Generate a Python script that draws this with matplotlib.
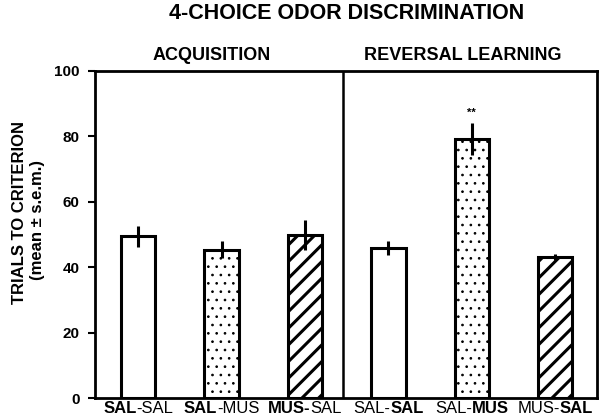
import numpy as np
import matplotlib
matplotlib.use("Agg")
import matplotlib.pyplot as plt
from matplotlib.offsetbox import TextArea, HPacker, AnnotationBbox

plt.rcParams['font.family'] = ['Liberation Sans', 'DejaVu Sans']

# group labels, split into (bold part, plain part) pieces
label_parts = [
    [("SAL", True), ("-SAL", False)],
    [("SAL", True), ("-MUS", False)],
    [("MUS-", True), ("SAL", False)],
    [("SAL-", False), ("SAL", True)],
    [("SAL-", False), ("MUS", True)],
    [("MUS-", False), ("SAL", True)],
]
means = [49.5, 45.3, 49.8, 45.9, 79.3, 43.1]
sems = [3.2, 2.6, 4.6, 2.2, 4.9, 1.0]
hatches = ['', '..', '//', '', '..', '//']
panels = ["ACQUISITION", "REVERSAL LEARNING"]
yticks = [0, 20, 40, 60, 80, 100]

fig = plt.figure(figsize=(6, 4.2), dpi=100)
ax = fig.add_axes([0.158, 0.052, 0.837, 0.779])

x = np.arange(len(means))
for i in range(len(means)):
    plt.rcParams['hatch.linewidth'] = 2.2 if hatches[i] == '//' else 0.7
    b = ax.bar(x[i], means[i], width=0.41, color='white', edgecolor='black',
               linewidth=2.2, hatch=hatches[i], zorder=2)
    for p in b:
        if hasattr(p, 'set_hatch_linewidth'):
            p.set_hatch_linewidth(plt.rcParams['hatch.linewidth'])
ax.errorbar(x, means, yerr=sems, fmt='none', ecolor='black', elinewidth=2.2,
            capsize=0, zorder=3)

# significance marker
ax.text(x[4], means[4] + sems[4] + 1.5, "**", ha='center', va='bottom',
        fontsize=8, fontweight='bold')

ax.axvline(2.46, color='black', lw=1.8, zorder=1)

ax.set_xlim(-0.52, 5.5)
ax.set_ylim(0, 100)
ax.set_yticks(yticks)
ax.set_yticklabels([str(t) for t in yticks], fontsize=11, fontweight='bold')
ax.tick_params(axis='y', direction='out', length=5, width=1.5, pad=6)
ax.set_xticks([])
for s in ax.spines.values():
    s.set_linewidth(2)

# group labels with mixed weights
for i, parts in enumerate(label_parts):
    areas = [TextArea(t, textprops=dict(fontsize=12,
                                        fontweight='bold' if bold else 'normal'))
             for t, bold in parts]
    pack = HPacker(children=areas, pad=0, sep=0, align='baseline')
    ab = AnnotationBbox(pack, (x[i], 0), xycoords=('data', 'axes fraction'),
                        xybox=(0, -2), boxcoords='offset points',
                        box_alignment=(0.5, 1), frameon=False, pad=0)
    ax.add_artist(ab)

fig.text(0.577, 0.968, "4-CHOICE ODOR DISCRIMINATION", ha='center', va='center',
         fontsize=15.5, fontweight='bold')
fig.text(0.353, 0.869, panels[0], ha='center', va='center', fontsize=13,
         fontweight='bold')
fig.text(0.772, 0.869, panels[1], ha='center', va='center', fontsize=13,
         fontweight='bold')

fig.text(0.033, 0.495, "TRIALS TO CRITERION", rotation=90, ha='center',
         va='center', fontsize=12, fontweight='bold')
fig.text(0.063, 0.476, "(mean \u00b1 s.e.m.)", rotation=90, ha='center',
         va='center', fontsize=12, fontweight='bold')

fig.savefig("out.png", dpi=100)
